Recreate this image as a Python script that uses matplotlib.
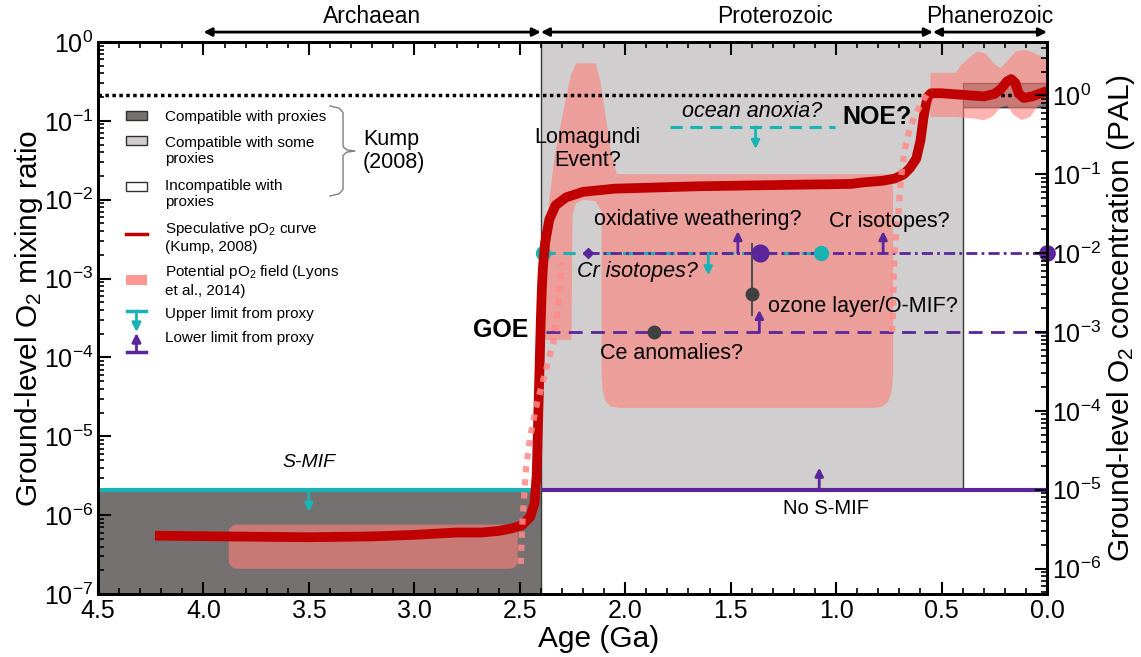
import matplotlib.pyplot as plt
import numpy as np
from matplotlib.ticker import LogLocator, MultipleLocator, FormatStrFormatter, NullFormatter
from matplotlib.patches import Rectangle

plt.rcParams['font.family'] = ['Liberation Sans', 'DejaVu Sans']
plt.rcParams['mathtext.fontset'] = 'custom'
plt.rcParams['mathtext.rm'] = 'Liberation Sans'
plt.rcParams['mathtext.it'] = 'Liberation Sans:italic'
plt.rcParams['mathtext.bf'] = 'Liberation Sans:bold'

# ----------------------------
# Data
# ----------------------------
PAL = 0.21                      # present atmospheric level as a mixing ratio
smif_level = 1e-5 * PAL
cr_level = 1e-2 * PAL
goe_level = 1e-3 * PAL
anoxia_level = 0.4 * PAL

# Kump (2008) compatibility boxes: (age old, age young, O2 low, O2 high)
box_compatible = [(4.5, 2.4, 1e-7, smif_level), (0.4, 0.0, 0.15, 0.30)]
box_some = [(2.4, 0.0, smif_level, 1.0)]
box_incompatible = [(0.4, 0.0, smif_level, 0.15)]

# Kump (2008) speculative pO2 curve, log10 mixing ratio
kump_age = [4.23, 3.9, 3.5, 3.2, 3.0, 2.8, 2.68, 2.6, 2.54, 2.49, 2.45, 2.43,
            2.42, 2.415, 2.41, 2.405, 2.40, 2.395, 2.39, 2.38, 2.36, 2.33,
            2.28, 2.2, 2.05, 1.66, 1.19, 0.93, 0.87, 0.78, 0.72, 0.68, 0.65,
            0.62, 0.60, 0.585, 0.575, 0.565, 0.55, 0.5, 0.4, 0.3, 0.25, 0.22,
            0.19, 0.17, 0.15, 0.135, 0.11, 0.07, 0.03, 0.0]
kump_log = [-6.26, -6.27, -6.28, -6.27, -6.25, -6.22, -6.22, -6.20, -6.17,
            -6.13, -6.02, -5.85, -5.5, -5.0, -4.5, -4.0, -3.5, -3.1, -2.85,
            -2.55, -2.25, -2.07, -1.97, -1.90, -1.86, -1.83, -1.81, -1.80,
            -1.78, -1.76, -1.73, -1.68, -1.60, -1.48, -1.25, -0.95, -0.80,
            -0.69, -0.65, -0.65, -0.67, -0.69, -0.66, -0.60, -0.50, -0.47,
            -0.52, -0.65, -0.71, -0.69, -0.65, -0.62]

# Lyons et al. (2014) potential pO2 field, log10 mixing ratio
arch_field = (3.88, 2.51, -6.68, -6.12)   # age old, age young, log low, log high
prot_field_age = [2.378, 2.378, 2.365, 2.335, 2.295, 2.258, 2.232, 2.140, 2.118,
                  2.092, 2.069, 2.040, 0.760, 0.740, 0.730, 0.730, 0.738, 0.755,
                  0.780, 0.810, 2.030, 2.070, 2.095, 2.108, 2.112, 2.112, 2.140,
                  2.200, 2.235, 2.250, 2.255]
prot_field_log = [-3.78, -2.97, -2.11, -1.46, -0.90, -0.42, -0.27, -0.27, -0.50,
                  -0.95, -1.38, -1.676, -1.676, -1.72, -1.85, -4.25, -4.45, -4.57,
                  -4.62, -4.64, -4.64, -4.62, -4.55, -4.40, -4.20, -2.15, -2.02,
                  -2.00, -2.05, -2.20, -3.78]
phan_field_age = [0.553, 0.43, 0.41, 0.37, 0.33, 0.29, 0.25, 0.22, 0.19, 0.15,
                  0.10, 0.05, 0.0, 0.0, 0.04, 0.08, 0.12, 0.16, 0.19, 0.22,
                  0.26, 0.30, 0.35, 0.43, 0.553]
phan_field_log = [-0.39, -0.39, -0.30, -0.20, -0.12, -0.15, -0.28, -0.33, -0.25,
                  -0.12, -0.10, -0.15, -0.22, -0.78, -0.80, -0.95, -0.99, -0.92,
                  -0.80, -0.83, -0.95, -0.99, -0.97, -0.95, -0.95]

# Lyons dotted transitions (GOE and NOE)
goe_dot_age = [2.495, 2.49, 2.48, 2.47, 2.45, 2.42, 2.39, 2.36, 2.34, 2.32, 2.30]
goe_dot_log = [-6.62, -6.20, -5.80, -5.40, -5.00, -4.60, -4.30, -4.00, -3.80, -3.40, -2.80]
noe_dot_age = [0.735, 0.730, 0.727, 0.719, 0.703, 0.692, 0.676, 0.648, 0.616, 0.585, 0.561, 0.55]
noe_dot_log = [-3.68, -3.40, -2.97, -2.54, -2.11, -1.72, -1.37, -1.07, -0.88, -0.73, -0.64, -0.60]

# proxy constraints
ozone_age, ozone_log, ozone_lo, ozone_hi = 1.401, -3.20, -3.461, -2.558
ce_age = 1.863

# ----------------------------
# Style
# ----------------------------
DARK = '#767171'
LIGHT = '#d0cece'
RED = '#c00000'
PINK = '#ff7f7a'
DOT = '#ff8a8a'
CYAN = '#19b3b3'
PURPLE = '#5a2699'
EDGE = '#3a3a3a'
ARROW_DEC = 0.28   # arrow length in decades

fig = plt.figure(figsize=(11.41, 6.57), dpi=100)
ax = fig.add_axes([98 / 1141, 1 - 594 / 657, 949 / 1141, 552 / 657])
ax.set_xlim(4.5, 0.0)
ax.set_yscale('log')
ax.set_ylim(1e-7, 1.0)


def logv(v):
    return 10.0 ** np.asarray(v, dtype=float)


def rounded_box(a_old, a_young, lo, hi, ra, rl, n=8):
    # rounded rectangle in (age, log10) space
    xmin, xmax = a_young, a_old
    centers = [(xmax - ra, hi - rl, 0.0), (xmin + ra, hi - rl, 0.5 * np.pi),
               (xmin + ra, lo + rl, np.pi), (xmax - ra, lo + rl, 1.5 * np.pi)]
    xs, ys = [], []
    for cx, cy, th0 in centers:
        th = np.linspace(th0, th0 + 0.5 * np.pi, n)
        xs.extend(cx + ra * np.cos(th))
        ys.extend(cy + rl * np.sin(th))
    return np.array(xs), np.array(ys)


# Kump boxes
for a0, a1, lo, hi in box_some:
    ax.add_patch(Rectangle((a1, lo), a0 - a1, hi - lo, facecolor=LIGHT,
                           edgecolor=EDGE, lw=1.0, zorder=0))
for a0, a1, lo, hi in box_incompatible:
    ax.add_patch(Rectangle((a1, lo), a0 - a1, hi - lo, facecolor='white',
                           edgecolor=EDGE, lw=1.0, zorder=0.5))
for a0, a1, lo, hi in box_compatible:
    ax.add_patch(Rectangle((a1, lo), a0 - a1, hi - lo, facecolor=DARK,
                           edgecolor=EDGE, lw=1.0, zorder=0.6))

# Lyons fields
bx, by = rounded_box(*arch_field, 0.04, 0.1)
ax.fill(bx, logv(by), color=PINK, alpha=0.6, lw=0, zorder=1)
ax.fill(prot_field_age, logv(prot_field_log), color=PINK, alpha=0.6, lw=0, zorder=1)
ax.fill(phan_field_age, logv(phan_field_log), color=PINK, alpha=0.6, lw=0, zorder=1)

# present atmospheric level
ax.axhline(PAL, color='black', lw=2.5, ls=(0, (1, 1)), zorder=3)

# proxy lines
ax.plot([4.5, 2.4], [smif_level] * 2, color=CYAN, lw=3, zorder=3, solid_capstyle='butt')
ax.plot([2.4, 0.0], [smif_level] * 2, color=PURPLE, lw=3, zorder=3, solid_capstyle='butt')
ax.plot([1.79, 1.003], [anoxia_level] * 2, color=CYAN, lw=2.2, ls=(0, (4, 2.5)), zorder=3)
ax.plot([2.39, 1.074], [cr_level] * 2, color=CYAN, lw=2.2, ls=(0, (4, 2.5)), zorder=3)
ax.plot([2.176, 0.0], [cr_level] * 2, color=PURPLE, lw=2.0, ls=(0, (4, 1.5, 1, 1.5)), zorder=3.1)
ax.plot([2.376, 0.0], [goe_level] * 2, color=PURPLE, lw=2.0, ls=(0, (5, 3)), zorder=3)

# limit arrows
limit_arrows = [
    (3.5, smif_level, -1, CYAN),
    (1.08, smif_level, 1, PURPLE),
    (1.382, anoxia_level, -1, CYAN),
    (1.466, cr_level, 1, PURPLE),
    (1.606, cr_level, -1, CYAN),
    (0.777, cr_level, 1, PURPLE),
    (1.364, goe_level, 1, PURPLE),
]
for age, lev, sign, col in limit_arrows:
    ax.annotate('', xy=(age, lev * 10 ** (sign * ARROW_DEC)), xytext=(age, lev),
                arrowprops=dict(arrowstyle='-|>', color=col, lw=2,
                                mutation_scale=12, shrinkA=0, shrinkB=0),
                zorder=3.2)

# proxy markers
ax.plot([2.39, 1.074], [cr_level] * 2, 'o', color=CYAN, ms=10, zorder=3.5)
ax.plot(2.176, cr_level, 'D', color=PURPLE, ms=5, zorder=3.5)
ax.plot(1.361, cr_level, 'o', color=PURPLE, ms=12, zorder=3.5)
ax.plot(0.0, cr_level, 'o', color=PURPLE, ms=11, zorder=6, clip_on=False)
ax.plot(ce_age, goe_level, 'o', color='#404040', ms=9, zorder=3.5)
ax.plot([ozone_age] * 2, logv([ozone_lo, ozone_hi]), color='#505050', lw=1.5, zorder=3.4)
ax.plot(ozone_age, 10 ** ozone_log, 'o', color='#404040', ms=9, zorder=3.5)

# Kump curve and Lyons transitions
ax.plot(kump_age, logv(kump_log), color=RED, lw=7, solid_capstyle='butt',
        solid_joinstyle='round', zorder=4)
ax.plot(goe_dot_age, logv(goe_dot_log), color=DOT, lw=4.5, alpha=0.85,
        ls=(0, (1, 1.1)), zorder=4.5)
ax.plot(noe_dot_age, logv(noe_dot_log), color=DOT, lw=4.5, alpha=0.85,
        ls=(0, (1, 1.1)), zorder=4.5)

# annotations
tk = dict(zorder=5, ha='center', va='center')
ax.text(2.18, 10 ** -1.36, 'Lomagundi\nEvent?', fontsize=15.5, linespacing=1.1, **tk)
ax.text(1.658, 10 ** -2.248, 'oxidative weathering?', fontsize=15.5, **tk)
ax.text(0.749, 10 ** -2.27, 'Cr isotopes?', fontsize=15.5, **tk)
ax.text(1.942, 10 ** -2.914, 'Cr isotopes?', fontsize=15.5, style='italic', **tk)
ax.text(0.874, 10 ** -3.353, 'ozone layer/O-MIF?', fontsize=15.5, **tk)
ax.text(1.78, 10 ** -3.955, 'Ce anomalies?', fontsize=15.5, **tk)
ax.text(1.40, 10 ** -0.88, 'ocean anoxia?', fontsize=15.5, style='italic', **tk)
ax.text(0.806, 10 ** -0.945, 'NOE?', fontsize=18, weight='bold', **tk)
ax.text(2.59, 10 ** -3.65, 'GOE', fontsize=18, weight='bold', **tk)
ax.text(3.5, 10 ** -5.33, 'S-MIF', fontsize=14, style='italic', **tk)
ax.text(1.05, 10 ** -5.91, 'No S-MIF', fontsize=14.5, **tk)

# era arrows above the axes
era_tr = ax.get_xaxis_transform()
eras = [('Archaean', 4.0, 2.4, 3.2), ('Proterozoic', 2.4, 0.541, 1.29), ('Phanerozoic', 0.541, 0.0, 0.27)]
for name, a0, a1, xt in eras:
    ax.annotate('', xy=(a1, 1.018), xytext=(a0, 1.018), xycoords=era_tr, textcoords=era_tr,
                arrowprops=dict(arrowstyle='<|-|>', color='black', lw=2,
                                mutation_scale=12, shrinkA=0, shrinkB=0),
                annotation_clip=False)
    ax.text(xt, 1.047, name, transform=era_tr, fontsize=16.5, ha='center', va='center')

# ----------------------------
# Legend (drawn in axes fraction)
# ----------------------------
tA = ax.transAxes
sw_x, sw_w = 0.0295, 0.0221
for yc, fc in [(0.8668, DARK), (0.8207, LIGHT), (0.7382, 'white')]:
    ax.add_patch(Rectangle((sw_x, yc - 0.0082), sw_w, 0.0164, transform=tA,
                           facecolor=fc, edgecolor='#303030', lw=1.0, zorder=6))
ax.add_patch(Rectangle((sw_x, 0.5598), sw_w, 0.0181, transform=tA,
                       facecolor=PINK, alpha=0.8, lw=0, zorder=6))
ax.plot([sw_x, sw_x + sw_w], [0.6522] * 2, color=RED, lw=2.5, transform=tA, zorder=6)

xm = sw_x + sw_w / 2
for bar_y, tip_y, col in [(0.5127, 0.4746, CYAN), (0.4384, 0.4728, PURPLE)]:
    ax.plot([xm - 0.01, xm + 0.01], [bar_y] * 2, color=col, lw=2.5, transform=tA, zorder=6)
    ax.annotate('', xy=(xm, tip_y), xytext=(xm, bar_y), xycoords=tA, textcoords=tA,
                arrowprops=dict(arrowstyle='-|>', color=col, lw=2,
                                mutation_scale=13, shrinkA=0, shrinkB=0), zorder=6)

leg_x = 0.0706
leg_items = [
    (0.8647, 'Compatible with proxies'),
    (0.8027, 'Compatible with some\nproxies'),
    (0.7246, 'Incompatible with\nproxies'),
    (0.6469, 'Speculative pO$_2$ curve\n(Kump, 2008)'),
    (0.5679, 'Potential pO$_2$ field (Lyons\net al., 2014)'),
    (0.5067, 'Upper limit from proxy'),
    (0.4638, 'Lower limit from proxy'),
]
for yy, lab in leg_items:
    ax.text(leg_x, yy, lab, transform=tA, fontsize=11, ha='left', va='center', zorder=6)

# brace grouping the Kump boxes
bx0, bx1, btip = 0.2445, 0.2582, 0.2708
by0, by1, bmid = 0.8841, 0.7210, 0.8025
brace_x = [bx0, bx1 - 0.004, bx1, bx1, bx1 + 0.004, btip, bx1 + 0.004, bx1, bx1, bx1 - 0.004, bx0]
brace_y = [by0, by0 - 0.004, by0 - 0.012, bmid + 0.008, bmid + 0.002, bmid,
           bmid - 0.002, bmid - 0.008, by1 + 0.012, by1 + 0.004, by1]
ax.plot(brace_x, brace_y, color='#808080', lw=1.0, transform=tA, zorder=6)
ax.text(0.2792, 0.8025, 'Kump\n(2008)', transform=tA, fontsize=15.5,
        ha='left', va='center', linespacing=1.1, zorder=6)

# ----------------------------
# Axes
# ----------------------------
ax.xaxis.set_major_locator(MultipleLocator(0.5))
ax.xaxis.set_minor_locator(MultipleLocator(0.1))
ax.xaxis.set_major_formatter(FormatStrFormatter('%.1f'))
ax.yaxis.set_major_locator(LogLocator(base=10, numticks=20))
ax.yaxis.set_minor_locator(LogLocator(base=10, subs=np.arange(2, 10), numticks=20))
ax.yaxis.set_minor_formatter(NullFormatter())
ax.tick_params(which='both', direction='in', top=True, right=False, labelsize=18, width=1.5)
ax.tick_params(which='major', length=9)
ax.tick_params(which='minor', length=4.5, width=1.2)
for s in ax.spines.values():
    s.set_linewidth(2)
ax.set_xlabel('Age (Ga)', fontsize=21.5)
ax.xaxis.set_label_coords(0.528, -0.057)
ax.set_ylabel('Ground-level O$_2$ mixing ratio', fontsize=21.5)
ax.yaxis.set_label_coords(-0.056, 0.5)

ax2 = ax.twinx()
ax2.set_yscale('log')
ax2.set_ylim(1e-7 / PAL, 1.0 / PAL)
ax2.yaxis.set_major_locator(LogLocator(base=10, numticks=20))
ax2.yaxis.set_minor_locator(LogLocator(base=10, subs=np.arange(2, 10), numticks=20))
ax2.yaxis.set_minor_formatter(NullFormatter())
ax2.tick_params(which='both', direction='in', labelsize=18, width=1.5)
ax2.tick_params(which='major', length=9)
ax2.tick_params(which='minor', length=4.5, width=1.2)
ax2.set_ylabel('Ground-level O$_2$ concentration (PAL)', fontsize=21.5)
ax2.yaxis.set_label_coords(1.061, 0.5)
for s in ax2.spines.values():
    s.set_linewidth(2)

fig.savefig('out.png', dpi=100)
